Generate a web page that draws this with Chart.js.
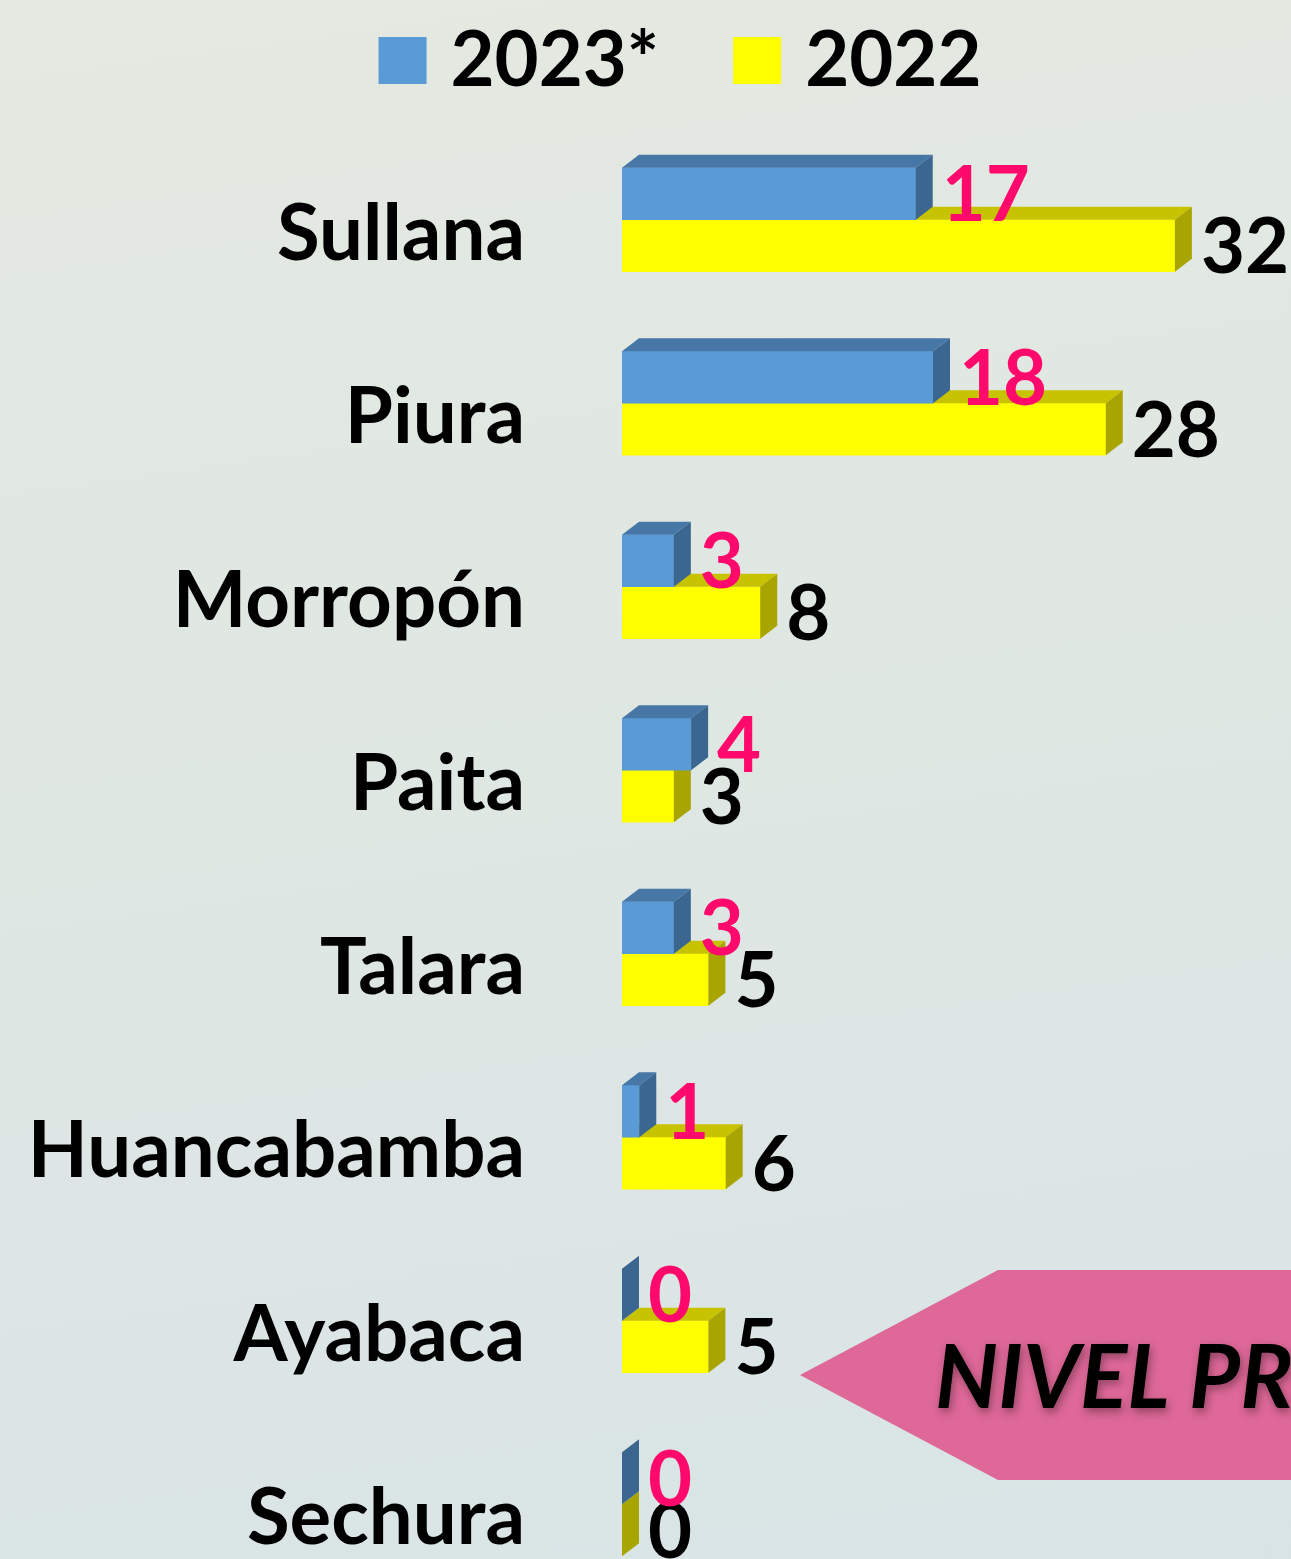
<!DOCTYPE html>
<html>
<head>
<meta charset="utf-8">
<script src="https://cdn.jsdelivr.net/npm/chart.js@4.4.0/dist/chart.umd.min.js"></script>
<style>
html,body{margin:0;padding:0;overflow:hidden;}
body{width:1291px;height:1559px;background:linear-gradient(172deg,#E4E9E1 0%,#DFE7E3 50%,#D9E4E6 100%);}
canvas{display:block;}
</style>
</head>
<body>
<canvas id="chart1" width="1291" height="1600"></canvas>
<script>
// data
const labels = ["Sullana","Piura","Morropón","Paita","Talara","Huancabamba","Ayabaca","Sechura"];
const v2023 = [17,18,3,4,3,1,0,0];
const v2022 = [32,28,8,3,5,6,5,0];
const seriesNames = ["2023*","2022"];

// colours for front / top / side faces and value labels
const faces = [
  {front:"#5B9BD5", top:"#4677A6", side:"#3B6690", text:"#FF0A6C"},
  {front:"#FFFF00", top:"#C8C300", side:"#A8A400", text:"#000000"}
];
const DX = 17, DY = -13;
const FONT = "Lato";

const bars3d = {
  id: "bars3d",
  afterDatasetDraw(chart, args){
    const ctx = chart.ctx;
    const f = faces[args.index];
    chart.getDatasetMeta(args.index).data.forEach(b => {
      const top = b.y - b.height/2, bot = b.y + b.height/2, x0 = b.base, x1 = b.x;
      ctx.save();
      ctx.fillStyle = f.top;
      ctx.beginPath();
      ctx.moveTo(x0, top); ctx.lineTo(x0+DX, top+DY); ctx.lineTo(x1+DX, top+DY); ctx.lineTo(x1, top);
      ctx.closePath(); ctx.fill();
      ctx.fillStyle = f.side;
      ctx.beginPath();
      ctx.moveTo(x1, top); ctx.lineTo(x1+DX, top+DY); ctx.lineTo(x1+DX, bot+DY); ctx.lineTo(x1, bot);
      ctx.closePath(); ctx.fill();
      ctx.restore();
    });
  },
  afterDatasetsDraw(chart){
    const ctx = chart.ctx;
    ctx.save();
    ctx.font = "bold 76px " + FONT;
    ctx.textBaseline = "middle";
    ctx.textAlign = "left";
    // black labels first, pink on top
    for (let i = chart.data.datasets.length-1; i >= 0; --i) {
      const ds = chart.data.datasets[i];
      ctx.fillStyle = faces[i].text;
      chart.getDatasetMeta(i).data.forEach((b,j) => {
        ctx.fillText(String(ds.data[j]), b.x + DX + 9, b.y + 3);
      });
    }
    ctx.restore();
  },
  afterDraw(chart){
    const ctx = chart.ctx;
    ctx.save();
    // legend
    ctx.font = "bold 76px " + FONT;
    ctx.textBaseline = "middle";
    let widths = seriesNames.map(s => ctx.measureText(s).width);
    const box = 48, gapT = 24, gapI = 74;
    let total = 0;
    widths.forEach((w,i) => { total += box + gapT + w + (i ? gapI : 0); });
    let x = 680 - total/2;
    seriesNames.forEach((s,i) => {
      ctx.fillStyle = faces[i].front;
      ctx.fillRect(x, 37, box, 47);
      ctx.fillStyle = "#000";
      ctx.fillText(s, x + box + gapT, 61);
      x += box + gapT + widths[i] + gapI;
    });
    // pink callout arrow
    ctx.fillStyle = "#DE6898";
    ctx.beginPath();
    ctx.moveTo(800,1375); ctx.lineTo(998,1270); ctx.lineTo(1300,1270); ctx.lineTo(1300,1480); ctx.lineTo(998,1480);
    ctx.closePath(); ctx.fill();
    ctx.font = "italic bold 88px " + FONT;
    ctx.textBaseline = "alphabetic";
    ctx.shadowColor = "rgba(0,0,0,0.35)";
    ctx.shadowBlur = 8; ctx.shadowOffsetX = 2; ctx.shadowOffsetY = 4;
    ctx.fillStyle = "#000";
    ctx.fillText("NIVEL PROVINCIAL", 935, 1408);
    ctx.restore();
  }
};

new Chart(document.getElementById("chart1"), {
  type: "bar",
  data: {
    labels: labels,
    datasets: [
      {label: seriesNames[0], data: v2023, backgroundColor: faces[0].front, barThickness: 52},
      {label: seriesNames[1], data: v2022, backgroundColor: faces[1].front, barThickness: 52}
    ]
  },
  options: {
    indexAxis: "y",
    responsive: false,
    animation: false,
    devicePixelRatio: 1,
    layout: { padding: {top: 128, bottom: 4, right: 47, left: 0} },
    scales: {
      x: { display: false, min: 0, max: 36 },
      y: {
        grid: { display: false, drawTicks: false },
        border: { display: false },
        ticks: { color: "#000", padding: 97, labelOffset: 15, font: {family: FONT, weight: "bold", size: 78} },
        afterFit(s){ s.width = 622; s.paddingTop = 0; s.paddingBottom = 0; }
      }
    },
    plugins: {
      legend: { display: false },
      tooltip: { enabled: false }
    }
  },
  plugins: [bars3d]
});
</script>
</body>
</html>
